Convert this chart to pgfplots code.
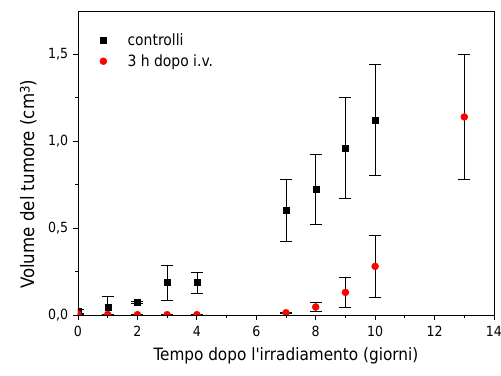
\documentclass[border=0pt]{standalone}
\usepackage{pgfplots}
\pgfplotsset{compat=1.18}
\usepackage{fontspec}
\setmainfont{DejaVu Sans Condensed}
\newfontfamily\plainfont{DejaVu Sans Condensed}
\begin{document}
\fontsize{14}{16}\selectfont
\begin{tikzpicture}
\begin{axis}[
  width=416pt, height=304pt, scale only axis,
  xmin=0, xmax=14, ymin=0, ymax=1.75,
  xtick={0,2,...,14}, minor xtick={1,3,...,13},
  ytick={0,0.5,1.0,1.5}, minor ytick={0.25,0.75,1.25},
  tick align=outside, xtick pos=bottom, ytick pos=left,
  major tick length=5pt, minor tick length=3pt,
  tick style={black, line width=0.8pt},
  axis line style={line width=0.9pt},
  clip marker paths=true,
  /pgf/number format/assume math mode=true,
  ticklabel style={font=\fontsize{14}{16}\selectfont},
  xticklabel style={yshift=-1pt},
  yticklabel style={/pgf/number format/.cd, fixed, fixed zerofill, precision=1, use comma},
  xlabel={Tempo dopo {\plainfont l'irradiamento} (giorni)},
  ylabel={Volume del tumore (cm\raisebox{0.45ex}{\fontsize{13}{14}\selectfont 3})},
  xlabel style={font=\fontsize{17}{19}\selectfont, yshift=-2pt},
  ylabel style={font=\fontsize{18.5}{20}\selectfont, at={(ticklabel cs:0.43)}, yshift=2pt},
  legend style={at={(0.045,0.94)}, anchor=north west, draw=none, fill=none, font=\fontsize{15.5}{17}\selectfont, row sep=3pt},
  legend cell align=left,
]
\addlegendimage{only marks, mark=square*, mark size=3pt, black}
\addlegendentry{\hspace{1.2em}controlli}
\addlegendimage{only marks, mark=*, mark size=3.5pt, red, mark options={draw=red, fill=red}}
\addlegendentry{\hspace{1.2em}3 h dopo i.v.}
\addplot[forget plot, only marks, mark=square*, mark size=3pt, black,
  error bars/.cd, y dir=both, y explicit,
  error bar style={black, line width=0.7pt},
  error mark options={rotate=90, mark size=6pt, line width=0.7pt}]
  coordinates {
  (0,0.02) +- (0,0.01)
  (1,0.044) +- (0,0.061)
  (2,0.073) +- (0,0.006)
  (3,0.186) +- (0,0.100)
  (4,0.186) +- (0,0.061)
  (7,0.602) +- (0,0.180)
  (8,0.722) +- (0,0.200)
  (9,0.962) +- (0,0.290)
  (10,1.121) +- (0,0.320)
  };
\addplot[forget plot, only marks, mark=*, mark size=3.5pt, red, mark options={draw=red, fill=red},
  error bars/.cd, y dir=both, y explicit,
  error bar style={black, line width=0.7pt},
  error mark options={rotate=90, mark size=6pt, line width=0.7pt, black}]
  coordinates {
  (0,0.006) +- (0,0.0)
  (1,0.003) +- (0,0.0)
  (2,0.002) +- (0,0.0)
  (3,0.002) +- (0,0.0)
  (4,0.002) +- (0,0.0)
  (7,0.013) +- (0,0.005)
  (8,0.046) +- (0,0.025)
  (9,0.130) +- (0,0.084)
  (10,0.280) +- (0,0.180)
  (13,1.140) +- (0,0.362)
  };
\end{axis}
\pgfresetboundingbox
\useasboundingbox ([shift={(-78pt,-61pt)}]current axis.south west) rectangle ([shift={(7pt,11pt)}]current axis.north east);
\end{tikzpicture}
\end{document}
